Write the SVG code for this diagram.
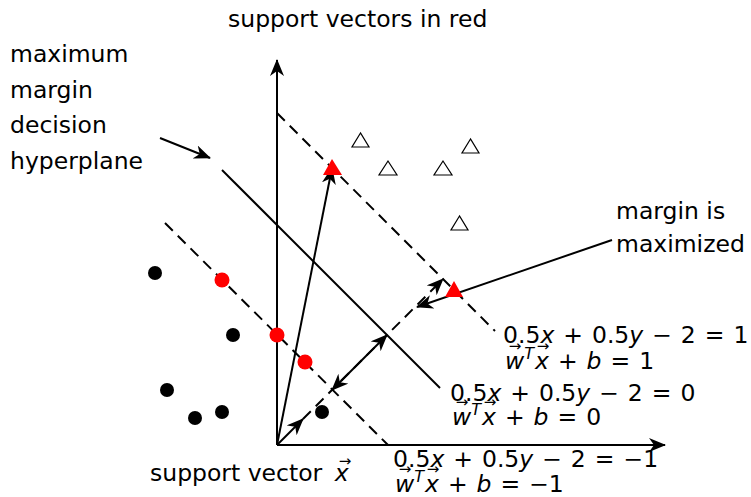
<svg xmlns="http://www.w3.org/2000/svg" width="751" height="497" viewBox="0 0 751 497">
<style>
text{font-family:"DejaVu Sans","Liberation Sans",sans-serif;fill:#000}
.t{font-size:23.5px}
.m{font-size:23.5px;word-spacing:1.5px}
.i{font-style:italic}
.va{font-size:15px;text-anchor:middle}
.ln{stroke:#000;stroke-width:2;fill:none}
.ds{stroke:#000;stroke-width:2;fill:none;stroke-dasharray:11 7}
.bk{fill:#000}
.rd{fill:#ff0000}
.wt{fill:#fff;stroke:#000;stroke-width:1.2}
.rt{fill:#ff0000}
</style>
<defs>
<marker id="ah" markerUnits="userSpaceOnUse" markerWidth="18" markerHeight="14" refX="16" refY="7" orient="auto-start-reverse">
<path d="M0,0 L17,7 L0,14 L5,7 z" fill="#000"/>
</marker>
</defs>
<g id="labels">
<text class="t" x="228" y="27">support vectors in red</text>
<text class="t" x="10" y="62">maximum</text>
<text class="t" x="10" y="98">margin</text>
<text class="t" x="10" y="133">decision</text>
<text class="t" x="10" y="169">hyperplane</text>
<text class="t" x="616" y="219">margin is</text>
<text class="t" x="616" y="252">maximized</text>
<text class="t" x="150" y="481">support vector <tspan class="i" dx="5">x</tspan></text>
<text class="va" x="345" y="466">→</text>
</g>
<g id="axes">
<line class="ln" x1="277" y1="445" x2="277" y2="60" marker-end="url(#ah)"/>
<line class="ln" x1="277" y1="445" x2="665" y2="445" marker-end="url(#ah)"/>
</g>
<g id="hyperplanes">
<line class="ds" x1="277" y1="113" x2="495" y2="331"/>
<line class="ln" x1="222" y1="170" x2="440" y2="388"/>
<line class="ds" x1="165" y1="223" x2="388" y2="445"/>
</g>
<g id="points">
<circle class="bk" cx="155" cy="273" r="7"/>
<circle class="bk" cx="233" cy="335" r="7"/>
<circle class="bk" cx="167" cy="390" r="7"/>
<circle class="bk" cx="195" cy="418" r="7"/>
<circle class="bk" cx="222" cy="412" r="7"/>
<circle class="bk" cx="322" cy="412" r="7"/>
<circle class="rd" cx="222" cy="280" r="7.5"/>
<circle class="rd" cx="277" cy="335" r="7.5"/>
<circle class="rd" cx="305" cy="362" r="7.5"/>
<polygon class="wt" points="360.5,133 352,147 369,147"/>
<polygon class="wt" points="388,161 379,175 397,175"/>
<polygon class="wt" points="443,161 434,175 452,175"/>
<polygon class="wt" points="470.5,139 462,153 479,153"/>
<polygon class="wt" points="459.5,216 451,230 468,230"/>
</g>
<g id="connectors">
<line class="ds" x1="303" y1="419" x2="443" y2="279"/>
<line class="ln" x1="277" y1="445" x2="303" y2="419" marker-end="url(#ah)"/>
<line class="ln" x1="332" y1="390" x2="387" y2="335" marker-start="url(#ah)" marker-end="url(#ah)"/>
<line x1="387" y1="335" x2="443" y2="279" stroke="none" marker-end="url(#ah)"/>
<line class="ln" x1="277" y1="445" x2="332" y2="168" marker-end="url(#ah)"/>
<line class="ln" x1="612" y1="240" x2="417" y2="307" marker-end="url(#ah)"/>
<line class="ln" x1="160" y1="138" x2="210" y2="158" marker-end="url(#ah)"/>
</g>
<g id="support-triangles">
<polygon class="rt" points="332,159 323,175 342,175"/>
<polygon class="rt" points="454,281 445,297 463,297"/>
</g>
<g id="equations">
<text class="m" x="503" y="343">0.5<tspan class="i">x</tspan> + 0.5<tspan class="i">y</tspan> − 2 = 1</text>
<text class="m" x="505" y="369"><tspan class="i">w</tspan><tspan class="i" font-size="16" dy="-10">T</tspan><tspan class="i" dy="10" dx="1">x</tspan> + <tspan class="i">b</tspan> = 1</text>
<text class="va" x="515" y="351">→</text>
<text class="va" x="543" y="351">→</text>
<text class="m" x="450" y="401">0.5<tspan class="i">x</tspan> + 0.5<tspan class="i">y</tspan> − 2 = 0</text>
<text class="m" x="452" y="425"><tspan class="i">w</tspan><tspan class="i" font-size="16" dy="-10">T</tspan><tspan class="i" dy="10" dx="1">x</tspan> + <tspan class="i">b</tspan> = 0</text>
<text class="va" x="462" y="407">→</text>
<text class="va" x="490" y="407">→</text>
<text class="m" x="393" y="467">0.5<tspan class="i">x</tspan> + 0.5<tspan class="i">y</tspan> − 2 = −1</text>
<text class="m" x="395" y="492"><tspan class="i">w</tspan><tspan class="i" font-size="16" dy="-10">T</tspan><tspan class="i" dy="10" dx="1">x</tspan> + <tspan class="i">b</tspan> = −1</text>
<text class="va" x="405" y="474">→</text>
<text class="va" x="433" y="474">→</text>
</g>
</svg>
